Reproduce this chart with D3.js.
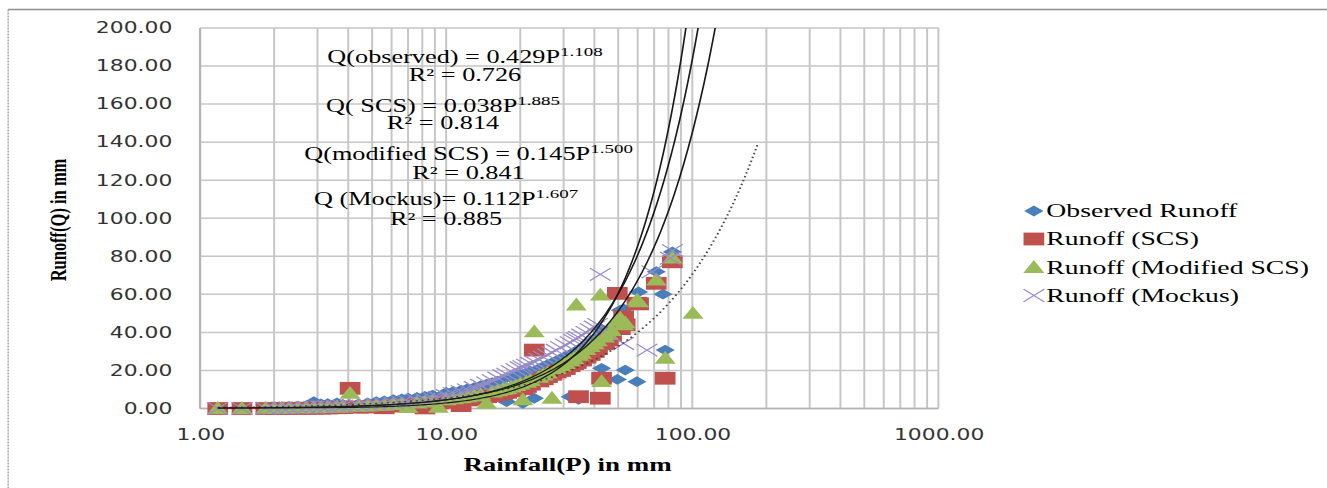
<!DOCTYPE html>
<html>
<head>
<meta charset="utf-8">
<script src="https://cdn.jsdelivr.net/npm/d3@7"></script>
<style>
  html, body { margin: 0; padding: 0; background: #ffffff; overflow: hidden; }
  svg { display: block; }
</style>
</head>
<body>
<svg id="chart"></svg>
<script>
// Rainfall events (mm) and runoff (mm) from each method; null = no marker
const rainfall = [
  1.18, 1.48, 1.85, 2.0, 2.15, 2.3, 2.5, 2.7, 2.9, 3.1,
  3.3, 3.6, 3.8, 4.07, 4.4, 4.8, 5.2, 5.6, 6.1, 6.6,
  7.0, 7.6, 8.2, 8.8, 9.3, 10.0, 10.7, 11.5, 12.2, 13.0,
  13.8, 14.6, 15.4, 16.2, 17.0, 17.6, 18.4, 19.2, 20.0, 20.5,
  21.2, 22.0, 22.8, 23.8, 24.8, 25.8, 26.9, 28.0, 29.2, 30.5,
  31.9, 33.0, 33.8, 34.5, 35.5, 37.0, 38.5, 40.0, 41.2, 42.3,
  42.8, 44.0, 45.5, 47.0, 49.6, 51.0, 52.6, 53.4, 59.6, 60.5,
  65.5, 68.5, 71.4, 76.0, 77.6, 81.4, 83.0, 100.6
];
const observedRunoff = [
  0.2, 0.3, 0.4, 0.6, 0.8, 1.0, 1.2, 1.5, 3.6, 2.4,
  2.6, 3.0, 2.2, 2.0, 2.4, 3.0, 3.6, 4.0, 4.6, 5.0,
  5.4, 5.8, 6.4, 7.0, 3.0, 8.4, 9.0, 9.6, 10.4, 11.0,
  12.0, 12.8, 13.6, 14.4, 15.2, 3.6, 16.2, 17.0, 17.8, 2.7,
  18.8, 19.6, 5.4, 21.0, 22.0, 23.0, 24.0, 25.0, 26.2, 27.4,
  6.2, 29.4, 30.2, 4.8, 31.8, 33.2, 34.6, 36.2, 37.6, 42.1,
  21.1, 39.0, 40.5, 42.0, 15.3, 51.7, 52.3, 20.2, 14.1, 61.3,
  null, null, 71.9, 60.1, 30.7, null, 82.3, null
];
const scsRunoff = [
  0.0, 0.0, 0.0, 0.0, 0.0, 0.1, 0.1, 0.1, 0.2, 0.2,
  0.3, 0.4, 0.5, 10.6, 0.7, 0.8, 1.0, 0.4, 1.3, 1.5,
  1.7, 2.0, 0.3, 2.6, 2.9, 3.3, 3.7, 1.5, 4.5, 5.0,
  5.6, 6.2, 6.8, 7.4, 8.0, 8.5, 9.3, 10.0, 10.8, 10.4,
  11.6, 12.8, 30.7, 14.5, 15.6, 16.8, 18.0, 19.2, 20.0, 21.0,
  22.5, 23.6, 24.2, 6.2, 25.5, 27.0, 28.4, 30.0, 31.5, 5.4,
  15.9, 34.0, 36.0, 38.5, 60.5, 42.0, 48.2, 44.0, 55.3, 55.0,
  null, null, 65.8, null, 15.9, null, 77.1, null
];
const modifiedScsRunoff = [
  0.0, 0.0, 0.1, 0.1, 0.2, 0.2, 0.3, 0.3, 0.4, 0.5,
  0.6, 0.7, 0.8, 8.0, 1.1, 1.3, 1.5, 1.7, 2.0, 2.3,
  0.5, 2.9, 3.3, 3.7, 0.6, 4.6, 5.1, 5.6, 6.1, 6.7,
  7.3, 2.7, 8.6, 9.3, 10.0, 10.5, 11.3, 12.0, 12.8, 4.5,
  13.8, 14.6, 40.3, 16.4, 17.5, 18.6, 5.4, 21.0, 22.3, 23.6,
  25.0, 26.2, 54.4, 28.0, 29.0, 31.0, 32.5, 34.0, 35.5, 59.6,
  14.1, 37.5, 39.0, 41.0, 46.0, 47.4, 44.0, 45.0, 57.0, 56.0,
  null, null, 67.5, null, 26.4, null, 79.0, 50.0
];
const mockusRunoff = [
  0.0, 0.0, 0.1, 0.2, 0.3, 0.3, 0.4, 0.5, 0.6, 0.8,
  0.9, 1.1, 1.2, 1.4, 1.6, 1.9, 2.2, 2.5, 2.9, 3.3,
  3.7, 4.2, 4.8, 5.4, 5.9, 6.8, 7.8, 8.8, 9.8, 11.0,
  12.2, 13.4, 14.6, 16.0, 17.2, 18.0, 19.4, 20.4, 21.4, 22.0,
  22.8, 23.8, 24.6, 25.8, 27.0, 28.2, 29.4, 30.6, 32.0, 33.4,
  34.6, 35.8, 36.6, 37.4, 38.6, 40.0, 41.4, 42.8, 44.2, 70.5,
  null, null, null, null, null, null, 34.2, null, null, null,
  30.7, 71.8, null, null, null, 79.0, 83.0, null
];

const seriesNames = ["Observed Runoff", "Runoff (SCS)", "Runoff (Modified SCS)", "Runoff (Mockus)"];
const seriesColors = ["#4a7ebb", "#c0504d", "#9bbb59", "#9a8cc6"];

// Power trendlines Q = a * P^b with their fit statistics
const trendPrefix = ["Q(observed) = ", "Q( SCS) = ", "Q(modified SCS) = ", "Q (Mockus)= "];
const trendCoef = [0.429, 0.038, 0.145, 0.112];
const trendExp = [1.108, 1.885, 1.500, 1.607];
const trendR2 = [0.726, 0.814, 0.841, 0.885];

const xTicks = [1, 10, 100, 1000];
const yTicks = [0, 20, 40, 60, 80, 100, 120, 140, 160, 180, 200];

// Drawing happens in a narrower coordinate space that is stretched to the window width
const W = 1327, H = 488, VW = 910;
const svg = d3.select("#chart")
  .attr("width", W).attr("height", H)
  .attr("viewBox", `0 0 ${VW} ${H}`)
  .attr("preserveAspectRatio", "none");

const SERIF = "'Liberation Serif', 'Times New Roman', serif";
const SANS = "'DejaVu Sans', Verdana, sans-serif";

const plotL = 137.2, plotR = 643.5, plotT = 28, plotB = 408.5;
const x = d3.scaleLog().domain([1, 1000]).range([plotL, plotR]);
const y = d3.scaleLinear().domain([0, 200]).range([plotB, plotT]);

// outer frame
svg.append("line").attr("x1", 5.5).attr("x2", VW).attr("y1", 9.5).attr("y2", 9.5)
  .attr("stroke", "#8f8f8f").attr("stroke-width", 1.6);
svg.append("line").attr("x1", 5.6).attr("x2", 5.6).attr("y1", 9.5).attr("y2", H)
  .attr("stroke", "#a8a8a8").attr("stroke-width", 1).attr("stroke-dasharray", "2,1");

// grid
const grid = svg.append("g");
const vLines = [];
[1, 10, 100].forEach(dec => { for (let k = 1; k <= 9; k++) vLines.push(dec * k); });
vLines.push(1000);
grid.selectAll("line.v").data(vLines).join("line").attr("class", "v")
  .attr("x1", d => x(d)).attr("x2", d => x(d)).attr("y1", plotT).attr("y2", plotB)
  .attr("stroke", "#c6c6c6").attr("stroke-width", 1.35);
grid.selectAll("line.h").data(yTicks).join("line").attr("class", "h")
  .attr("x1", plotL).attr("x2", plotR).attr("y1", d => y(d)).attr("y2", d => y(d))
  .attr("stroke", "#c6c6c6").attr("stroke-width", 1.5);
// axis lines
grid.append("line").attr("x1", plotL).attr("x2", plotL).attr("y1", plotT).attr("y2", plotB)
  .attr("stroke", "#b4b4b4").attr("stroke-width", 1.5);
grid.append("line").attr("x1", plotL).attr("x2", plotR).attr("y1", plotB).attr("y2", plotB)
  .attr("stroke", "#b4b4b4").attr("stroke-width", 1.6);

// axes
const yAxis = svg.append("g").attr("transform", `translate(${plotL},0)`)
  .call(d3.axisLeft(y).tickValues(yTicks).tickSize(0).tickPadding(19).tickFormat(d => d.toFixed(2)));
yAxis.select(".domain").remove();
yAxis.attr("font-family", SANS).attr("font-size", 15);
yAxis.selectAll("text").attr("fill", "#333333");

const xAxis = svg.append("g").attr("transform", `translate(0,${plotB})`)
  .call(d3.axisBottom(x).tickValues(xTicks).tickSize(0).tickPadding(21).tickFormat(d => d.toFixed(2)));
xAxis.select(".domain").remove();
xAxis.attr("font-family", SANS).attr("font-size", 15);
xAxis.selectAll("text").attr("fill", "#333333");

// axis titles
svg.append("text")
  .attr("transform", "translate(40,220) rotate(-90)")
  .attr("text-anchor", "middle").attr("dominant-baseline", "central")
  .attr("font-family", SERIF).attr("font-weight", "bold").attr("font-size", 16.5)
  .attr("fill", "#000").text("Runoff(Q) in mm");
svg.append("text")
  .attr("x", 389.2).attr("y", 471)
  .attr("text-anchor", "middle")
  .attr("font-family", SERIF).attr("font-weight", "bold").attr("font-size", 18.5)
  .attr("fill", "#000").text("Rainfall(P) in mm");

// marker shapes
const shapes = [
  "M0,-5.4L6.6,0L0,5.4L-6.6,0Z",
  "M-7.1,-6.4H7.1V6.4H-7.1Z",
  "M0,-7.4L7.2,5.4L-7.2,5.4Z",
  "M-7.1,-6.3L7.1,6.3M7.1,-6.3L-7.1,6.3"
];
const seriesValues = [observedRunoff, scsRunoff, modifiedScsRunoff, mockusRunoff];

const pts = svg.append("g");
seriesValues.forEach((vals, s) => {
  const data = rainfall.map((p, i) => [p, vals[i]]).filter(d => d[1] !== null);
  const sel = pts.append("g").selectAll("path").data(data).join("path")
    .attr("transform", d => `translate(${x(d[0])},${y(d[1])})`)
    .attr("d", shapes[s]);
  if (s === 3) sel.attr("fill", "none").attr("stroke", seriesColors[s]).attr("stroke-width", 1.1);
  else sel.attr("fill", seriesColors[s]);
});

// trendlines, clipped to the plot area
svg.append("clipPath").attr("id", "plotClip").append("rect")
  .attr("x", plotL).attr("y", plotT).attr("width", plotR - plotL).attr("height", plotB - plotT);
const pSamples = d3.range(0, 241).map(i => 1.18 * Math.pow(185 / 1.18, i / 240));
const trendLine = d3.line().x(d => x(d[0])).y(d => y(d[1]));
const trends = svg.append("g").attr("clip-path", "url(#plotClip)");
trendCoef.forEach((a, s) => {
  const b = trendExp[s];
  const path = trends.append("path")
    .datum(pSamples.map(p => [p, a * Math.pow(p, b)]))
    .attr("d", trendLine).attr("fill", "none");
  if (s === 0) path.attr("stroke", "#444444").attr("stroke-width", 1.4).attr("stroke-dasharray", "1.4,2.6");
  else path.attr("stroke", "#1a1a1a").attr("stroke-width", 1.15);
});

// trendline equation labels
const eqCenters = [318.9, 303.8, 321.3, 305.9];
const eqBase = [[63, 81], [112, 129.5], [160.5, 179], [205.5, 225]];
const labels = svg.append("g").attr("font-family", SERIF).attr("fill", "#000");
trendCoef.forEach((a, s) => {
  const t = labels.append("text").attr("x", eqCenters[s]).attr("y", eqBase[s][0])
    .attr("text-anchor", "middle").attr("font-size", 18);
  t.append("tspan").text(trendPrefix[s] + a.toFixed(3) + "P");
  t.append("tspan").attr("font-size", 13).attr("dy", -7).text(trendExp[s].toFixed(3));
  labels.append("text").attr("x", eqCenters[s]).attr("y", eqBase[s][1])
    .attr("text-anchor", "middle").attr("font-size", 18)
    .text("R\u00B2 = " + trendR2[s].toFixed(3));
});

// legend
const legendY = [211, 239, 267.5, 295.5];
const legend = svg.append("g");
seriesNames.forEach((name, s) => {
  const m = legend.append("path")
    .attr("transform", `translate(709,${legendY[s]})`)
    .attr("d", shapes[s]);
  if (s === 3) m.attr("fill", "none").attr("stroke", seriesColors[s]).attr("stroke-width", 1.1);
  else m.attr("fill", seriesColors[s]);
  legend.append("text").attr("x", 717.5).attr("y", legendY[s] + 6.3)
    .attr("font-family", SERIF).attr("font-size", 19).attr("fill", "#000")
    .text(name);
});
</script>
</body>
</html>
